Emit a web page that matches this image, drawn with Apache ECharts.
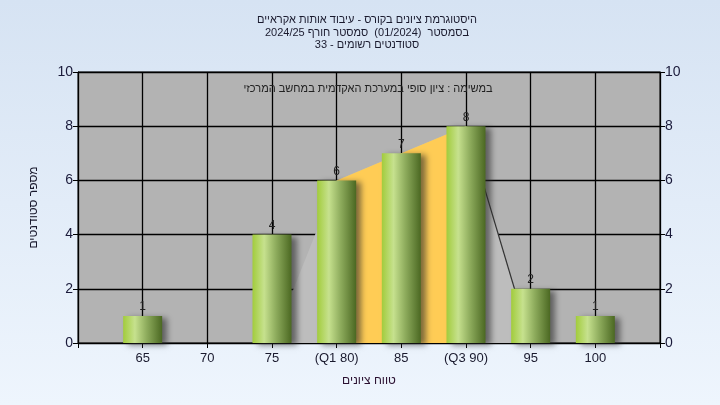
<!DOCTYPE html>
<html>
<head>
<meta charset="utf-8">
<script src="https://cdn.jsdelivr.net/npm/echarts@6/dist/echarts.min.js"></script>
<style>
html,body{margin:0;padding:0;}
#c{width:720px;height:405px;background:linear-gradient(#d6e3f3,#eef5fd);}
</style>
</head>
<body>
<div id="c"></div>
<script>
var titleLines = ['היסטוגרמת ציונים בקורס - עיבוד אותות אקראיים', 'בסמסטר  (01/2024)  סמסטר חורף 2024/25', 'סטודנטים רשומים - 33'];
var subTitle = 'במשימה : ציון סופי במערכת האקדמית במחשב המרכזי';
var xName = 'טווח ציונים';
var yName = 'מספר סטודנטים';
var grades = [65, 70, 75, 80, 85, 90, 95, 100];
var counts = [1, 0, 4, 6, 7, 8, 2, 1];
var tickLabels = {65:'65', 70:'70', 75:'75', 80:'(Q1 80)', 85:'85', 90:'(Q3 90)', 95:'95', 100:'100'};
var q1 = 80, q3 = 90;
// lighter shaded region outline points
var shadeX = [75, 80, 85, 90, 95];
var shadeY = [0, 6, 7, 8, 0];

var barData = grades.map(function(g, i){ return [g, counts[i]]; });
var shadeData = shadeX.map(function(x, i){ return [x, shadeY[i]]; });
var iqrData = grades.map(function(g, i){ return [g, counts[i]]; }).filter(function(p){ return p[0] >= q1 && p[0] <= q3; });
var edgeData = shadeData.slice(3);

var chart = echarts.init(document.getElementById('c'));
var font = 'Liberation Sans, Arial, sans-serif';
chart.setOption({
  animation: false,
  textStyle: {fontFamily: font},
  title: [{
    text: titleLines.join('\n'),
    left: 362, top: 9, textAlign: 'center',
    textStyle: {fontSize: 11, fontWeight: 'normal', color: '#1a1a2e', lineHeight: 12.5, fontFamily: font}
  }, {
    text: subTitle,
    left: 363, top: 78, textAlign: 'center',
    textStyle: {fontSize: 11, fontWeight: 'normal', color: '#222', fontFamily: font}
  }],
  grid: {left: 78, right: 60, top: 72, bottom: 62, show: true, backgroundColor: '#b3b3b3', borderColor: '#000', borderWidth: 1},
  xAxis: {
    type: 'value', min: 60, max: 105, interval: 5,
    name: xName, nameLocation: 'middle', nameGap: 32,
    nameTextStyle: {fontSize: 12, color: '#2a1030'},
    axisLine: {show: true, lineStyle: {color: '#000'}},
    axisTick: {show: true, length: 5, lineStyle: {color: '#000'}},
    axisLabel: {fontSize: 13, color: '#1a1a2e', margin: 9, formatter: function(v){ return tickLabels[v] || ''; }},
    splitLine: {show: true, lineStyle: {color: '#000', width: 1.3}}
  },
  yAxis: [{
    type: 'value', min: 0, max: 10, interval: 2,
    name: yName, nameLocation: 'middle', nameGap: 38, nameRotate: 90,
    nameTextStyle: {fontSize: 12, color: '#1a1a2e'},
    axisLine: {show: true, lineStyle: {color: '#000'}},
    axisTick: {show: true, length: 5, lineStyle: {color: '#000'}},
    axisLabel: {fontSize: 14, color: '#1a1a3a', margin: 5},
    splitLine: {show: true, lineStyle: {color: '#000', width: 1.3}}
  }, {
    type: 'value', min: 0, max: 10, interval: 2, position: 'right',
    axisLine: {show: true, lineStyle: {color: '#000'}},
    axisTick: {show: true, length: 5, lineStyle: {color: '#000'}},
    axisLabel: {fontSize: 14, color: '#1a1a3a', margin: 5},
    splitLine: {show: false}
  }],
  series: [{
    type: 'line', data: shadeData, symbol: 'none', z: 1,
    lineStyle: {width: 0}, areaStyle: {color: '#bdbdbd', opacity: 1}
  }, {
    type: 'line', data: edgeData, symbol: 'none', z: 2,
    lineStyle: {width: 1.2, color: '#333'}
  }, {
    type: 'line', data: iqrData, symbol: 'none', z: 2,
    lineStyle: {width: 0}, areaStyle: {color: '#ffcc55', opacity: 1}
  }, {
    type: 'bar', data: barData, barWidth: 39, z: 3,
    itemStyle: {
      color: {type: 'linear', x: 0, y: 0, x2: 1, y2: 0, colorStops: [
        {offset: 0, color: '#a2cc3c'}, {offset: 0.3, color: '#c6e18e'},
        {offset: 0.6, color: '#8eac5d'}, {offset: 1, color: '#4b6822'}]},
      shadowColor: 'rgba(40,40,40,0.6)', shadowBlur: 6, shadowOffsetX: 5, shadowOffsetY: 2
    },
    label: {show: true, position: 'top', distance: 3, fontSize: 12, color: '#222',
      formatter: function(p){ return p.value[1] > 0 ? p.value[1] : ''; }}
  }]
});
</script>
</body>
</html>
